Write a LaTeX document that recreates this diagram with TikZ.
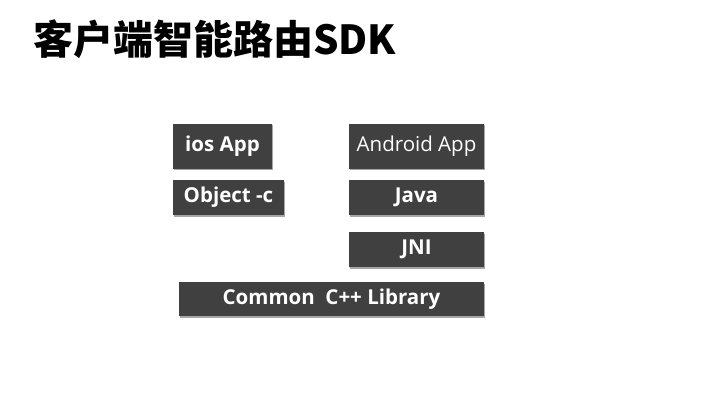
\documentclass[tikz,border=0pt]{standalone}
\usepackage{fontspec}
\setmainfont{Open Sans}
\newfontfamily\cjk{Noto Sans CJK SC}
\usepackage{xcolor}
\usepackage{tikz}
\usetikzlibrary{positioning, shadows}

\definecolor{layergray}{HTML}{404040}

\begin{document}
\begin{tikzpicture}[
    x=1pt, y=-1pt,
    layer/.style={rectangle, fill=layergray, text=white, inner sep=0pt, minimum height=35pt, font=\fontsize{20.5}{24}\selectfont\bfseries,
        drop shadow={shadow xshift=1pt, shadow yshift=-1.5pt, opacity=0.35, fill=black}},
    title/.style={anchor=west, inner sep=0pt, font=\cjk\bfseries\fontsize{40}{44}\selectfont}
]
    \useasboundingbox[fill=white] (0,0) rectangle (720,405);

    \node[title] (heading) at (33,39) {客户端智能路由SDK};

    \node[layer, minimum width=99pt, minimum height=45pt] (iosapp) at (222.5,146) {ios App};
    \node[layer, minimum width=135pt, minimum height=45pt, font=\fontsize{20.5}{24}\selectfont] (androidapp) at (416.5,146) {Android App};
    \node[layer, minimum width=111pt] (objc) at (228.5,197.5) {Object -c};
    \node[layer, minimum width=135pt] (java) at (416.5,197.5) {Java};
    \node[layer, minimum width=135pt] (jni) at (416.5,249.5) {JNI};
    \node[layer, minimum width=305pt, minimum height=34pt] (common) at (331.5,299) {Common\ \ C++ Library};
\end{tikzpicture}
\end{document}
